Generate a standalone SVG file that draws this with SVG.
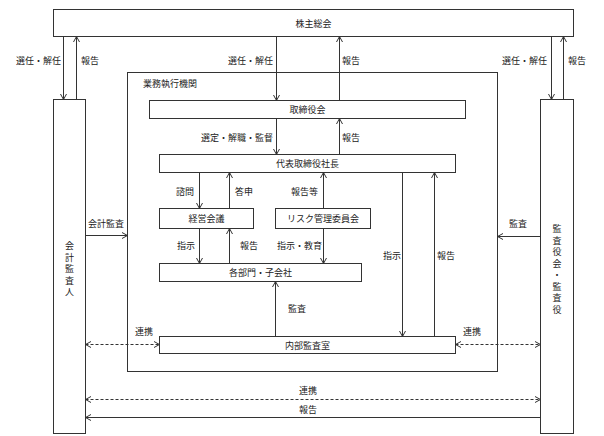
<svg xmlns="http://www.w3.org/2000/svg" width="604" height="436" viewBox="0 0 604 436">
<defs>
<marker id="ah" viewBox="0 0 8 8" refX="7.5" refY="4" markerWidth="8" markerHeight="8" markerUnits="userSpaceOnUse" orient="auto-start-reverse">
<path d="M2,1 L7.5,4 L2,7" fill="none" stroke="#333" stroke-width="1"/>
</marker>
</defs>
<style>
.box{fill:#fff;stroke:#333;stroke-width:1}
.t{font-family:"Noto Sans CJK JP","Noto Sans",sans-serif;font-size:9px;fill:#222;dominant-baseline:central}
.c{text-anchor:middle}
.e{text-anchor:end}
.ln{fill:none;stroke:#333;stroke-width:1}
.arr{marker-end:url(#ah)}
.dash{stroke-dasharray:3,2;marker-start:url(#ah);marker-end:url(#ah)}
</style>
<rect width="604" height="436" fill="#fff"/>
<g id="executive">
<rect class="box" x="127.5" y="72.5" width="370" height="299"/>
<text class="t" x="143" y="83">業務執行機関</text>
</g>
<g id="shareholders">
<rect class="box" x="53.5" y="9.5" width="520" height="27"/>
<text class="t c" x="313.5" y="23">株主総会</text>
</g>
<g id="accounting-auditor">
<rect class="box" x="53.5" y="99.5" width="32" height="334"/>
<text class="t c" x="69.5" y="245"><tspan x="69.5" y="245">会</tspan><tspan x="69.5" y="256.5">計</tspan><tspan x="69.5" y="268">監</tspan><tspan x="69.5" y="279.5">査</tspan><tspan x="69.5" y="291">人</tspan></text>
</g>
<g id="kansayaku">
<rect class="box" x="540.5" y="99.5" width="33" height="334"/>
<text class="t c" x="557" y="228"><tspan x="557" y="228">監</tspan><tspan x="557" y="239.5">査</tspan><tspan x="557" y="251">役</tspan><tspan x="557" y="262.5">会</tspan><tspan x="557" y="274">・</tspan><tspan x="557" y="285.5">監</tspan><tspan x="557" y="297">査</tspan><tspan x="557" y="308.5">役</tspan></text>
</g>
<g id="board">
<rect class="box" x="149.5" y="100.5" width="316" height="18"/>
<text class="t c" x="307.5" y="109.5">取締役会</text>
</g>
<g id="president">
<rect class="box" x="159.5" y="154.5" width="296" height="18"/>
<text class="t c" x="307.5" y="163.5">代表取締役社長</text>
</g>
<g id="management-council">
<rect class="box" x="159.5" y="208.5" width="94" height="20"/>
<text class="t c" x="206.5" y="218.5">経営会議</text>
</g>
<g id="risk-committee">
<rect class="box" x="275.5" y="208.5" width="95" height="20"/>
<text class="t c" x="323" y="218.5">リスク管理委員会</text>
</g>
<g id="departments">
<rect class="box" x="159.5" y="263.5" width="202" height="18"/>
<text class="t c" x="260.5" y="272.5">各部門・子会社</text>
</g>
<g id="internal-audit">
<rect class="box" x="159.5" y="336.5" width="296" height="17"/>
<text class="t c" x="307.5" y="345">内部監査室</text>
</g>
<g id="connectors">
<path class="ln arr" d="M63.5,36.5 V99.5"/>
<path class="ln arr" d="M76.5,99.5 V36.5"/>
<path class="ln arr" d="M551.5,36.5 V99.5"/>
<path class="ln arr" d="M563.5,99.5 V36.5"/>
<path class="ln arr" d="M276.5,36.5 V100.5"/>
<path class="ln arr" d="M339.5,100.5 V36.5"/>
<path class="ln arr" d="M276.5,118.5 V154.5"/>
<path class="ln arr" d="M339.5,154.5 V118.5"/>
<path class="ln arr" d="M199.5,172.5 V208.5"/>
<path class="ln arr" d="M229.5,208.5 V172.5"/>
<path class="ln arr" d="M323.5,208.5 V172.5"/>
<path class="ln arr" d="M199.5,228.5 V263.5"/>
<path class="ln arr" d="M229.5,263.5 V228.5"/>
<path class="ln arr" d="M323.5,228.5 V263.5"/>
<path class="ln arr" d="M275.5,336.5 V281.5"/>
<path class="ln arr" d="M402.5,172.5 V336.5"/>
<path class="ln arr" d="M434.5,336.5 V172.5"/>
<path class="ln arr" d="M85.5,235.5 H127.5"/>
<path class="ln arr" d="M540.5,236.5 H497.5"/>
<path class="ln dash" d="M85.5,344.5 H159.5"/>
<path class="ln dash" d="M455.5,344.5 H540.5"/>
<path class="ln dash" d="M85.5,399.5 H540.5"/>
<path class="ln arr" d="M540.5,417.5 H85.5"/>
<text class="t e" x="61" y="60">選任・解任</text>
<text class="t" x="81" y="60">報告</text>
<text class="t e" x="273" y="60">選任・解任</text>
<text class="t" x="342" y="60">報告</text>
<text class="t e" x="547" y="60">選任・解任</text>
<text class="t" x="568" y="60">報告</text>
<text class="t e" x="273" y="137">選定・解職・監督</text>
<text class="t" x="342" y="137">報告</text>
<text class="t e" x="194" y="191">諮問</text>
<text class="t" x="235" y="191">答申</text>
<text class="t e" x="318" y="191">報告等</text>
<text class="t e" x="195" y="245">指示</text>
<text class="t" x="240" y="245">報告</text>
<text class="t" x="277" y="245">指示・教育</text>
<text class="t" x="383" y="255">指示</text>
<text class="t" x="437" y="255">報告</text>
<text class="t" x="288" y="308">監査</text>
<text class="t" x="88" y="223">会計監査</text>
<text class="t" x="509" y="223">監査</text>
<text class="t" x="135" y="331">連携</text>
<text class="t" x="463" y="331">連携</text>
<text class="t c" x="308" y="390">連携</text>
<text class="t c" x="308" y="409">報告</text>
</g>
</svg>
